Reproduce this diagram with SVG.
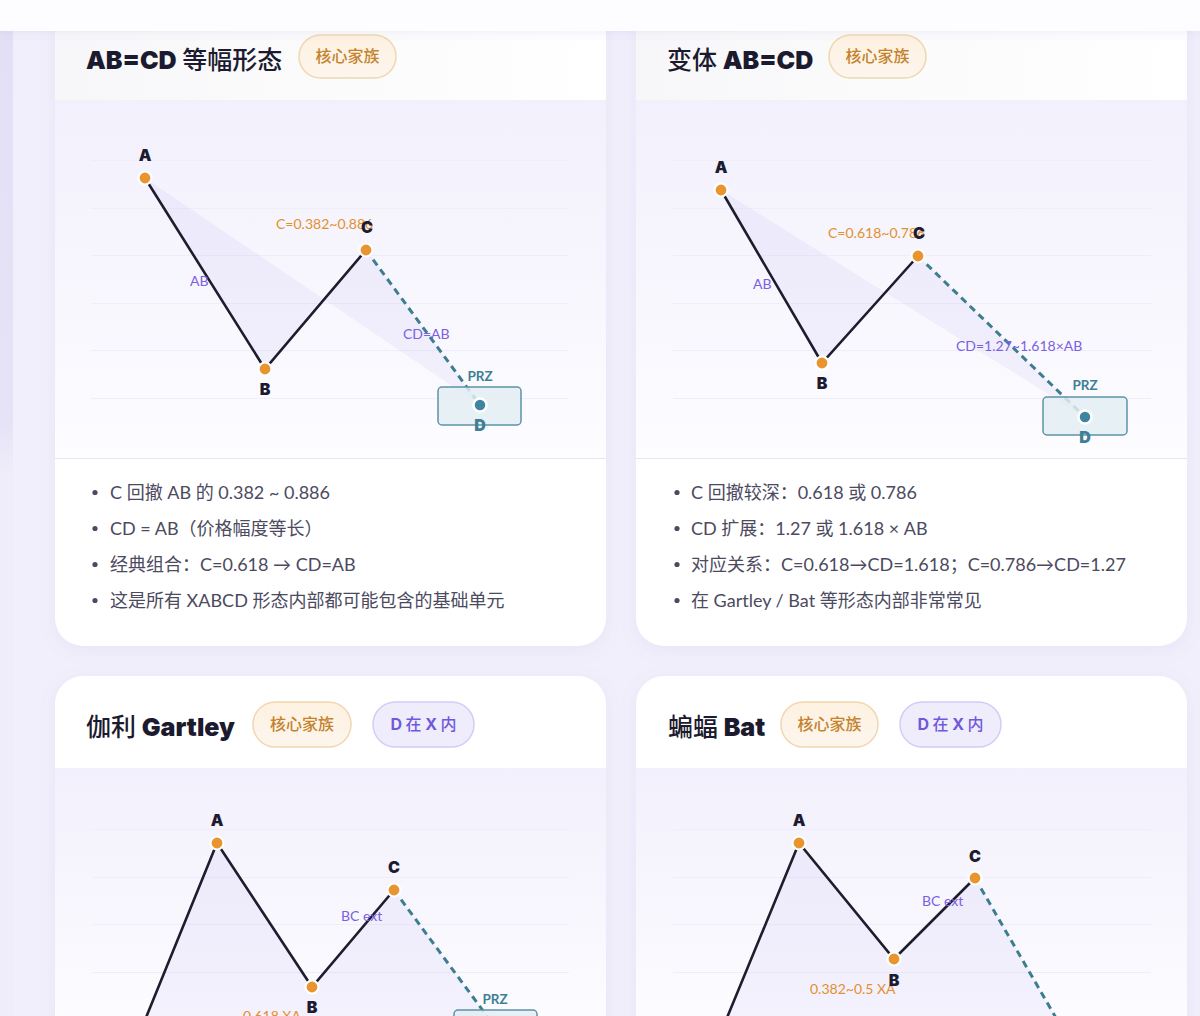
<svg xmlns="http://www.w3.org/2000/svg" width="1200" height="1016" viewBox="0 0 1200 1016">
<defs>
<linearGradient id="chartBg" x1="0" y1="0" x2="0" y2="1">
<stop offset="0" stop-color="#f2f0fc"/>
<stop offset="1" stop-color="#fdfcff"/>
</linearGradient>
<linearGradient id="hdrBg" x1="0" y1="0" x2="1" y2="0">
<stop offset="0" stop-color="#f7f7f9"/>
<stop offset="1" stop-color="#ffffff"/>
</linearGradient>
<linearGradient id="stripBg" x1="0" y1="0" x2="0" y2="1">
<stop offset="0" stop-color="#e3dff5"/>
<stop offset="0.4" stop-color="#e6e3f6"/>
<stop offset="0.45" stop-color="#efedfa"/>
<stop offset="1" stop-color="#efedfa"/>
</linearGradient>
<linearGradient id="badgeO" x1="0" y1="0" x2="0" y2="1">
<stop offset="0" stop-color="#fdf1e0"/>
<stop offset="1" stop-color="#fdf6ee"/>
</linearGradient>
<filter id="cardShadow" x="-10%" y="-10%" width="120%" height="120%">
<feDropShadow dx="0" dy="4" stdDeviation="8" flood-color="#8a7fd0" flood-opacity="0.10"/>
</filter>
<filter id="barShadow" x="-5%" y="-50%" width="110%" height="250%">
<feDropShadow dx="0" dy="2" stdDeviation="4" flood-color="#7e74c0" flood-opacity="0.10"/>
</filter>
<style>
.card{fill:#ffffff}
.chart{fill:url(#chartBg)}
.sep{stroke:#e6e4f0;stroke-width:1.2}
.grid{stroke:#efedf7;stroke-width:1}
.tl{font-family:Inter,"Noto Sans CJK SC",sans-serif;font-weight:900;font-size:25px;fill:#1b1a2e}
.tc{font-family:"Noto Sans CJK SC",sans-serif;font-weight:500;font-size:25px;fill:#1b1a2e}
.bo{fill:url(#badgeO);stroke:#f0d7b0;stroke-width:1.5}
.bot{font-family:"Noto Sans CJK SC",sans-serif;font-weight:500;font-size:16px;fill:#c4822c}
.bp{fill:#efedfc;stroke:#d3ccf4;stroke-width:1.5}
.bpt{font-family:"Noto Sans CJK SC",sans-serif;font-weight:500;font-size:16px;fill:#6f58dc}
.bpb{font-family:Inter,"Noto Sans CJK SC",sans-serif;font-weight:700}
.shade{fill:#7b6be0;fill-opacity:0.07}
.leg{stroke:#1e1d2e;stroke-width:2.6;fill:none;stroke-linecap:round}
.dash{stroke:#3d7e8e;stroke-width:3;fill:none;stroke-dasharray:7 5}
.pt{fill:#e8952f;stroke:#ffffff;stroke-width:2.2}
.dpt{fill:#3f85a0;stroke:#ffffff;stroke-width:2.5}
.prz{fill:#e3edf2;fill-opacity:0.85;stroke:#5d93a8;stroke-width:1.5}
.pl{font-family:Inter,"Noto Sans",sans-serif;font-weight:900;font-size:16px;fill:#1d1b30;text-anchor:middle}
.dl{font-family:Inter,"Noto Sans",sans-serif;font-weight:900;font-size:16px;fill:#3f7f95;text-anchor:middle}
.przl{font-family:Lato,"Noto Sans",sans-serif;font-weight:700;font-size:13.5px;fill:#3f7f95;text-anchor:middle}
.ol{font-family:Lato,"Noto Sans",sans-serif;font-size:14px;fill:#e3902e}
.vl{font-family:Lato,"Noto Sans",sans-serif;font-size:14px;fill:#7a60e2}
.bl{font-family:Lato,"Noto Sans CJK SC",sans-serif;font-size:18px;fill:#4c4a60}
.dot{fill:#4c4a60}
</style>
</defs>

<rect x="0" y="0" width="1200" height="1016" fill="#f1effb"/>
<rect x="0" y="31" width="13" height="985" fill="url(#stripBg)"/>

<!-- Card 1: AB=CD -->
<g id="card-abcd">
<rect class="card" x="55" y="-40" width="551" height="686" rx="28" filter="url(#cardShadow)"/>
<rect x="55" y="31" width="551" height="69" fill="url(#hdrBg)"/>
<rect class="chart" x="55" y="100" width="551" height="358"/>
<line class="sep" x1="55" y1="458.5" x2="606" y2="458.5"/>
<text x="86" y="69"><tspan class="tl">AB=CD</tspan><tspan class="tc"> 等幅形态</tspan></text>
<g id="badge-abcd-core">
<rect class="bo" x="299" y="35" width="97" height="43" rx="21.5"/>
<text class="bot" x="347.5" y="62" text-anchor="middle">核心家族</text>
</g>
<g class="grid">
<line x1="91" y1="160.5" x2="568" y2="160.5"/>
<line x1="91" y1="208.5" x2="568" y2="208.5"/>
<line x1="91" y1="255.5" x2="568" y2="255.5"/>
<line x1="91" y1="303.5" x2="568" y2="303.5"/>
<line x1="91" y1="350.5" x2="568" y2="350.5"/>
<line x1="91" y1="398.5" x2="568" y2="398.5"/>
</g>
<polygon class="shade" points="145,178 265,369 366,250 480,405"/>
<g id="connectors-abcd">
<polyline class="leg" points="145,178 265,369 366,250"/>
<line class="dash" x1="366" y1="250" x2="480" y2="405"/>
</g>
<rect class="prz" x="438" y="387" width="83" height="38" rx="4"/>
<text class="ol" x="276" y="229">C=0.382~0.886</text>
<text class="vl" x="190" y="286">AB</text>
<text class="vl" x="403" y="339">CD=AB</text>
<text class="przl" x="480" y="381">PRZ</text>
<g id="abcd-A"><circle class="pt" cx="145" cy="178" r="6.5"/><text class="pl" x="145" y="161">A</text></g>
<g id="abcd-B"><circle class="pt" cx="265" cy="369" r="6.5"/><text class="pl" x="265" y="395">B</text></g>
<g id="abcd-C"><circle class="pt" cx="366" cy="250" r="6.5"/><text class="pl" x="367" y="233">C</text></g>
<g id="abcd-D"><circle class="dpt" cx="480" cy="405" r="6.5"/><text class="dl" x="480" y="431">D</text></g>
<circle class="dot" cx="95" cy="492.5" r="2.6"/>
<text class="bl" x="110" y="498.5">C 回撤 AB 的 0.382 ~ 0.886</text>
<circle class="dot" cx="95" cy="528.5" r="2.6"/>
<text class="bl" x="110" y="534.5">CD = AB（价格幅度等长）</text>
<circle class="dot" cx="95" cy="564.5" r="2.6"/>
<text class="bl" x="110" y="570.5">经典组合：C=0.618 → CD=AB</text>
<circle class="dot" cx="95" cy="600.5" r="2.6"/>
<text class="bl" x="110" y="606.5">这是所有 XABCD 形态内部都可能包含的基础单元</text>
</g>

<!-- Card 2: variant AB=CD -->
<g id="card-abcd-variant">
<rect class="card" x="636" y="-40" width="551" height="686" rx="28" filter="url(#cardShadow)"/>
<rect x="636" y="31" width="551" height="69" fill="url(#hdrBg)"/>
<rect class="chart" x="636" y="100" width="551" height="358"/>
<line class="sep" x1="636" y1="458.5" x2="1187" y2="458.5"/>
<text x="667" y="69"><tspan class="tc">变体 </tspan><tspan class="tl">AB=CD</tspan></text>
<g id="badge-variant-core">
<rect class="bo" x="829" y="35" width="97" height="43" rx="21.5"/>
<text class="bot" x="877.5" y="62" text-anchor="middle">核心家族</text>
</g>
<g class="grid">
<line x1="673" y1="160.5" x2="1151" y2="160.5"/>
<line x1="673" y1="208.5" x2="1151" y2="208.5"/>
<line x1="673" y1="255.5" x2="1151" y2="255.5"/>
<line x1="673" y1="303.5" x2="1151" y2="303.5"/>
<line x1="673" y1="350.5" x2="1151" y2="350.5"/>
<line x1="673" y1="398.5" x2="1151" y2="398.5"/>
</g>
<polygon class="shade" points="721,190 822,363 918,256 1085,417"/>
<g id="connectors-variant">
<polyline class="leg" points="721,190 822,363 918,256"/>
<line class="dash" x1="918" y1="256" x2="1085" y2="417"/>
</g>
<rect class="prz" x="1043" y="397" width="84" height="38" rx="4"/>
<text class="ol" x="828" y="238">C=0.618~0.786</text>
<text class="vl" x="753" y="289">AB</text>
<text class="vl" x="956" y="351">CD=1.27~1.618×AB</text>
<text class="przl" x="1085" y="390">PRZ</text>
<g id="variant-A"><circle class="pt" cx="721" cy="190" r="6.5"/><text class="pl" x="721" y="173">A</text></g>
<g id="variant-B"><circle class="pt" cx="822" cy="363" r="6.5"/><text class="pl" x="822" y="389">B</text></g>
<g id="variant-C"><circle class="pt" cx="918" cy="256" r="6.5"/><text class="pl" x="919" y="239">C</text></g>
<g id="variant-D"><circle class="dpt" cx="1085" cy="417" r="6.5"/><text class="dl" x="1085" y="443">D</text></g>
<circle class="dot" cx="677" cy="492.5" r="2.6"/>
<text class="bl" x="691" y="498.5">C 回撤较深：0.618 或 0.786</text>
<circle class="dot" cx="677" cy="528.5" r="2.6"/>
<text class="bl" x="691" y="534.5">CD 扩展：1.27 或 1.618 × AB</text>
<circle class="dot" cx="677" cy="564.5" r="2.6"/>
<text class="bl" x="691" y="570.5">对应关系：C=0.618→CD=1.618；C=0.786→CD=1.27</text>
<circle class="dot" cx="677" cy="600.5" r="2.6"/>
<text class="bl" x="691" y="606.5">在 Gartley / Bat 等形态内部非常常见</text>
</g>

<!-- Card 3: Gartley -->
<g id="card-gartley">
<rect class="card" x="55" y="676" width="551" height="420" rx="28" filter="url(#cardShadow)"/>
<rect class="chart" x="55" y="768" width="551" height="260"/>
<text x="86" y="736"><tspan class="tc">伽利 </tspan><tspan class="tl" font-size="26">Gartley</tspan></text>
<g id="badge-gartley-core">
<rect class="bo" x="253" y="702" width="98" height="45" rx="22.5"/>
<text class="bot" x="302" y="730" text-anchor="middle">核心家族</text>
</g>
<g id="badge-gartley-dx">
<rect class="bp" x="373" y="702" width="101" height="45" rx="22.5"/>
<text class="bpt" x="423.5" y="730" text-anchor="middle"><tspan class="bpb">D</tspan> 在 <tspan class="bpb">X</tspan> 内</text>
</g>
<g class="grid">
<line x1="93" y1="829.5" x2="569" y2="829.5"/>
<line x1="93" y1="877.5" x2="569" y2="877.5"/>
<line x1="93" y1="924.5" x2="569" y2="924.5"/>
<line x1="93" y1="972.5" x2="569" y2="972.5"/>
</g>
<polygon class="shade" points="132,1052 217,843 312,987 394,890 495,1027"/>
<g id="connectors-gartley">
<polyline class="leg" points="132,1052 217,843 312,987 394,890"/>
<line class="dash" x1="394" y1="890" x2="495" y2="1027"/>
</g>
<rect class="prz" x="454" y="1010" width="83" height="38" rx="4"/>
<text class="vl" x="341" y="921">BC ext</text>
<text class="ol" x="243" y="1021">0.618 XA</text>
<text class="przl" x="495" y="1004">PRZ</text>
<g id="gartley-A"><circle class="pt" cx="217" cy="843" r="6.5"/><text class="pl" x="217" y="826">A</text></g>
<g id="gartley-B"><circle class="pt" cx="312" cy="987" r="6.5"/><text class="pl" x="312" y="1013">B</text></g>
<g id="gartley-C"><circle class="pt" cx="394" cy="890" r="6.5"/><text class="pl" x="394" y="873">C</text></g>
</g>

<!-- Card 4: Bat -->
<g id="card-bat">
<rect class="card" x="636" y="676" width="551" height="420" rx="28" filter="url(#cardShadow)"/>
<rect class="chart" x="636" y="768" width="551" height="260"/>
<text x="668" y="736"><tspan class="tc">蝙蝠 </tspan><tspan class="tl" font-size="26">Bat</tspan></text>
<g id="badge-bat-core">
<rect class="bo" x="781" y="702" width="97" height="45" rx="22.5"/>
<text class="bot" x="829.5" y="730" text-anchor="middle">核心家族</text>
</g>
<g id="badge-bat-dx">
<rect class="bp" x="900" y="702" width="101" height="45" rx="22.5"/>
<text class="bpt" x="950.5" y="730" text-anchor="middle"><tspan class="bpb">D</tspan> 在 <tspan class="bpb">X</tspan> 内</text>
</g>
<g class="grid">
<line x1="673" y1="829.5" x2="1151" y2="829.5"/>
<line x1="673" y1="877.5" x2="1151" y2="877.5"/>
<line x1="673" y1="924.5" x2="1151" y2="924.5"/>
<line x1="673" y1="972.5" x2="1151" y2="972.5"/>
</g>
<polygon class="shade" points="717,1042 799,843 894,959 975,878 1085,1068"/>
<g id="connectors-bat">
<polyline class="leg" points="717,1042 799,843 894,959 975,878"/>
<line class="dash" x1="975" y1="878" x2="1085" y2="1068"/>
</g>
<text class="vl" x="922" y="906">BC ext</text>
<text class="ol" x="810" y="994">0.382~0.5 XA</text>
<g id="bat-A"><circle class="pt" cx="799" cy="843" r="6.5"/><text class="pl" x="799" y="826">A</text></g>
<g id="bat-B"><circle class="pt" cx="894" cy="959" r="6.5"/><text class="pl" x="894" y="986">B</text></g>
<g id="bat-C"><circle class="pt" cx="975" cy="878" r="6.5"/><text class="pl" x="975" y="862">C</text></g>
</g>

<!-- sticky top bar -->
<rect x="0" y="0" width="1200" height="31" fill="#fdfcff" filter="url(#barShadow)"/>
</svg>
